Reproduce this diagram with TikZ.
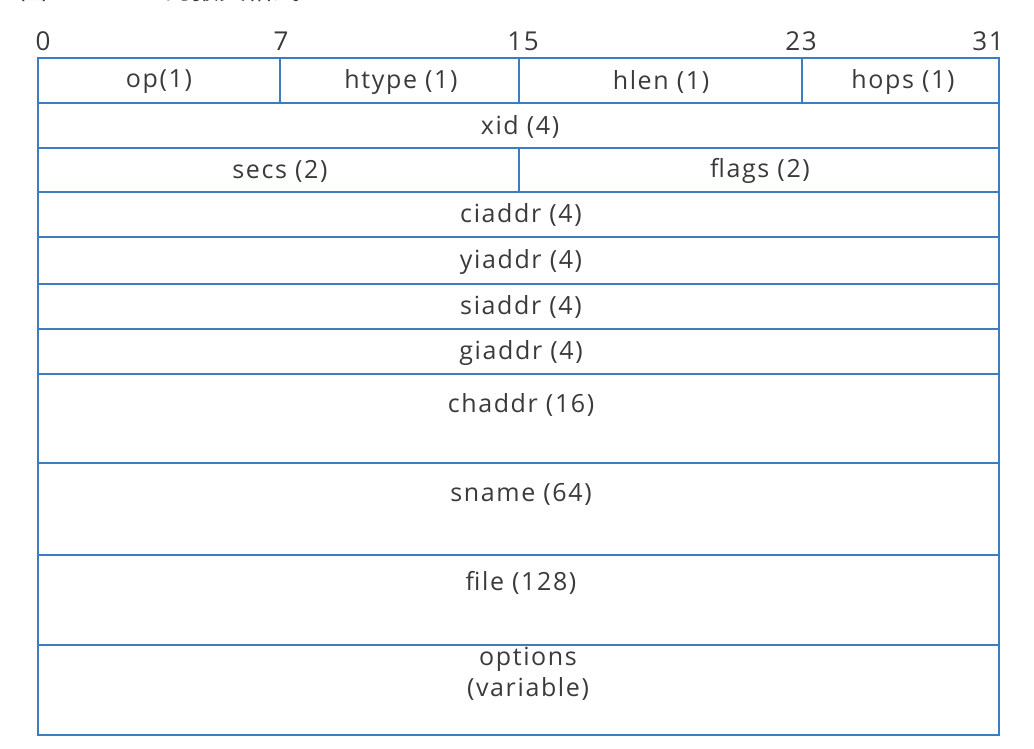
\documentclass[tikz,border=0pt]{standalone}
\usepackage{fontspec}
\setmainfont{Open Sans}
\newfontfamily\fieldfont[LetterSpace=6.5]{Open Sans}
\newfontfamily\cjkfont{Noto Sans CJK SC}
\definecolor{gridblue}{HTML}{3E7CC0}
\definecolor{labelgray}{HTML}{3A3A3A}
\begin{document}
\begin{tikzpicture}[x=1pt,y=-1pt,
  cell/.style={draw=gridblue, line width=2pt},
  fieldlabel/.style={text=labelgray, font=\fieldfont\fontsize{25}{31}\selectfont, inner sep=0pt, align=center},
  bitnum/.style={text=labelgray, font=\fieldfont\fontsize{26}{30}\selectfont, inner sep=0pt, anchor=base}]
\useasboundingbox (0,0) rectangle (1034,748);
\clip (0,0) rectangle (1034,748);

% caption above the table (runs off the top edge)
\node[text=labelgray, font=\cjkfont\fontsize{27}{30}\selectfont, inner sep=0pt, anchor=base west] (caption) at (20,-1) {图1-1 DHCP的报文格式};

% bit positions
\node[bitnum] (b0)  at (43,50)  {0};
\node[bitnum] (b7)  at (281,50) {7};
\node[bitnum] (b15) at (523,50) {15};
\node[bitnum] (b23) at (801,50) {23};
\node[bitnum] (b31) at (988,50) {31};

% row grid
\draw[cell] (38,58) rectangle (999,735);
\foreach \yy in {103,148,192,237,284,329,374,463,555,645}
  \draw[cell] (38,\yy) -- (999,\yy);
\draw[cell] (280,58) -- (280,103);
\draw[cell] (519,58) -- (519,103);
\draw[cell] (802,58) -- (802,103);
\draw[cell] (519,148) -- (519,192);

% field labels
\node[fieldlabel] (op)     at (159,82)  {op(1)};
\node[fieldlabel] (htype)  at (401,82)  {htype (1)};
\node[fieldlabel] (hlen)   at (661,82)  {hlen (1)};
\node[fieldlabel] (hops)   at (903,82)  {hops (1)};
\node[fieldlabel] (xid)    at (520,127) {xid (4)};
\node[fieldlabel] (secs)   at (280,171) {secs (2)};
\node[fieldlabel] (flags)  at (760,171) {flags (2)};
\node[fieldlabel] (ciaddr) at (521,215) {ciaddr (4)};
\node[fieldlabel] (yiaddr) at (521,262) {yiaddr (4)};
\node[fieldlabel] (siaddr) at (521,307) {siaddr (4)};
\node[fieldlabel] (giaddr) at (521,353) {giaddr (4)};
\node[fieldlabel] (chaddr) at (521,405) {chaddr (16)};
\node[fieldlabel] (sname)  at (521,494) {sname (64)};
\node[fieldlabel] (file)   at (521,583) {file (128)};
\node[fieldlabel] (options) at (528,674) {options\\(variable)};
\end{tikzpicture}
\end{document}
